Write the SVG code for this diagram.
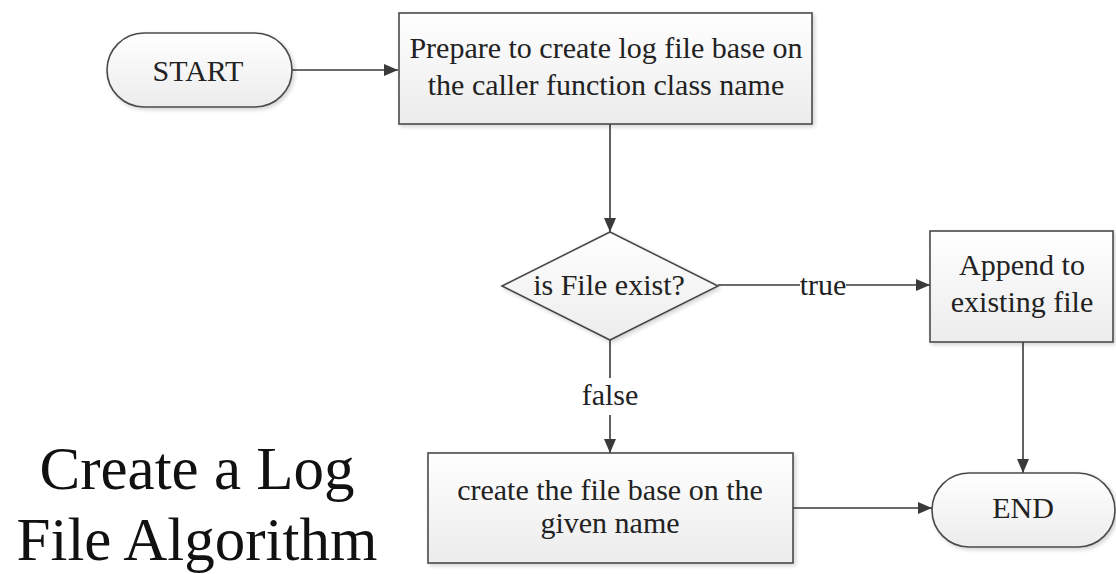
<svg xmlns="http://www.w3.org/2000/svg" width="1116" height="574" viewBox="0 0 1116 574">
  <defs>
    <linearGradient id="nodeFill" x1="0" y1="0" x2="0" y2="1">
      <stop offset="0" stop-color="#ffffff"/>
      <stop offset="1" stop-color="#ececec"/>
    </linearGradient>
    <filter id="shadow" x="-10%" y="-10%" width="130%" height="130%">
      <feGaussianBlur in="SourceAlpha" stdDeviation="2"/>
      <feOffset dx="2" dy="2" result="b"/>
      <feComponentTransfer><feFuncA type="linear" slope="0.18"/></feComponentTransfer>
      <feMerge><feMergeNode/><feMergeNode in="SourceGraphic"/></feMerge>
    </filter>
    <marker id="arrow" markerWidth="14" markerHeight="12" refX="14" refY="6" orient="auto" markerUnits="userSpaceOnUse">
      <path d="M0,0 L14,6 L0,12 Z" fill="#3a3a3a"/>
    </marker>
  </defs>
  <style>
    .shape { fill: url(#nodeFill); stroke: #4a4a4a; stroke-width: 1.6; filter: url(#shadow); }
    .label { font-family: "Liberation Serif", "Times New Roman", serif; font-size: 30px; fill: #222; text-anchor: middle; }
    .edge { fill: none; stroke: #3a3a3a; stroke-width: 1.6; }
    .title { font-family: "Liberation Serif", "Times New Roman", serif; font-size: 61px; fill: #111; text-anchor: middle; }
  </style>
  <rect width="1116" height="574" fill="#ffffff"/>

  <g id="connectors">
    <line class="edge" x1="292" y1="70" x2="398" y2="70" marker-end="url(#arrow)"/>
    <line class="edge" x1="610" y1="124" x2="610" y2="232" marker-end="url(#arrow)"/>
    <line class="edge" x1="718" y1="285" x2="800" y2="285"/>
    <line class="edge" x1="846" y1="285" x2="930" y2="285" marker-end="url(#arrow)"/>
    <text class="label" x="823" y="295">true</text>
    <line class="edge" x1="610" y1="340" x2="610" y2="378"/>
    <text class="label" x="610" y="405">false</text>
    <line class="edge" x1="610" y1="415" x2="610" y2="453" marker-end="url(#arrow)"/>
    <line class="edge" x1="1023" y1="342" x2="1023" y2="473" marker-end="url(#arrow)"/>
    <line class="edge" x1="793" y1="508" x2="932" y2="508" marker-end="url(#arrow)"/>
  </g>

  <g id="start">
    <rect class="shape" x="107" y="33" width="185" height="74" rx="37" ry="37"/>
    <text class="label" x="198" y="81">START</text>
  </g>

  <g id="prepare">
    <rect class="shape" x="399" y="13" width="413" height="111"/>
    <text class="label" x="606" y="58">Prepare to create log file base on</text>
    <text class="label" x="606" y="95">the caller function class name</text>
  </g>

  <g id="decision">
    <polygon class="shape" points="610,232 718,286 610,340 502,286"/>
    <text class="label" x="609" y="295">is File exist?</text>
  </g>

  <g id="append">
    <rect class="shape" x="930" y="231" width="183" height="111"/>
    <text class="label" x="1022" y="275">Append to</text>
    <text class="label" x="1022" y="312">existing file</text>
  </g>

  <g id="create">
    <rect class="shape" x="428" y="453" width="365" height="110"/>
    <text class="label" x="610" y="500">create the file base on the</text>
    <text class="label" x="610" y="533">given name</text>
  </g>

  <g id="end">
    <rect class="shape" x="932" y="473" width="183" height="74" rx="37" ry="37"/>
    <text class="label" x="1023" y="518">END</text>
  </g>

  <g id="caption">
    <text class="title" x="197" y="489">Create a Log</text>
    <text class="title" x="197" y="560">File Algorithm</text>
  </g>
</svg>
